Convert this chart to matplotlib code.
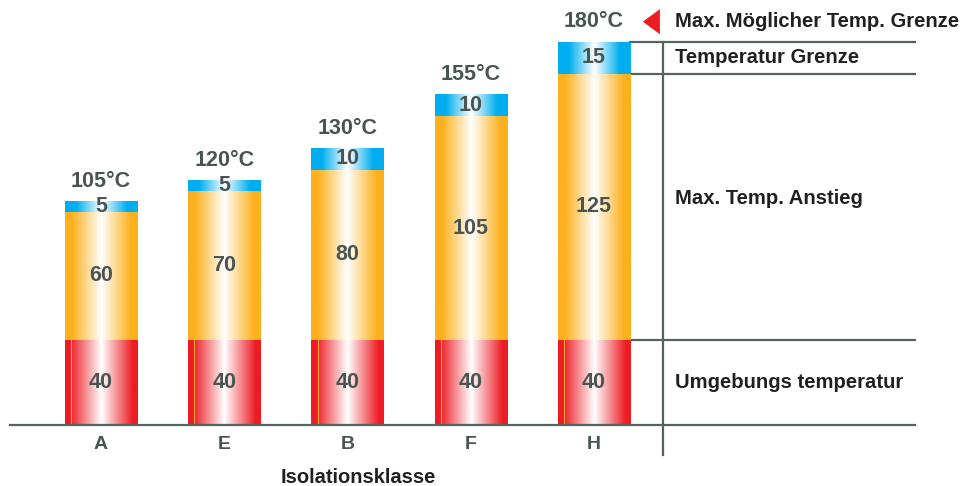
import numpy as np
import matplotlib.pyplot as plt
from matplotlib.patches import Polygon

plt.rcParams['font.family'] = ['Liberation Sans', 'DejaVu Sans']
plt.rcParams['font.weight'] = 'bold'

###############################################################
# data
###############################################################
classes = ['A', 'E', 'B', 'F', 'H']
ambient = [40, 40, 40, 40, 40]          # Umgebungs temperatur
rise = [60, 70, 80, 105, 125]            # Max. Temp. Anstieg
margin = [5, 5, 10, 10, 15]              # Temperatur Grenze
max_temp = [105, 120, 130, 155, 180]     # class label on top
band_labels = ['Max. Möglicher Temp. Grenze', 'Temperatur Grenze',
               'Max. Temp. Anstieg', 'Umgebungs temperatur']
xlabel = 'Isolationsklasse'

###############################################################
# style
###############################################################
red = '#ED1C24'
orange = '#FDB11F'
blue = '#00AEEF'
line_c = '#56625C'
grey_txt = '#4A5551'
dark_txt = '#231F20'
bw = 0.585


def grad_img(color, solid):
    c = np.array(plt.matplotlib.colors.to_rgb(color))
    t = np.linspace(0, 1, 300)
    d = np.abs(2 * t - 1)
    w = np.clip(1 - d / (1 - 2 * solid), 0, 1)
    rgb = c[None, :] + (1 - c[None, :]) * w[:, None]
    return rgb[None, :, :]


fig = plt.figure(figsize=(9.7, 4.86), dpi=100)
ax = fig.add_axes([0, 0, 1, 1])
ax.axis('off')

x = np.arange(len(classes))
for i, xi in enumerate(x):
    segs = [(0, ambient[i], red, 0.07),
            (ambient[i], ambient[i] + rise[i], orange, 0.10),
            (ambient[i] + rise[i], ambient[i] + rise[i] + margin[i], blue, 0.15)]
    vals = [ambient[i], rise[i], margin[i]]
    for (y0, y1, col, s), v in zip(segs, vals):
        ax.imshow(grad_img(col, s), extent=(xi - bw / 2, xi + bw / 2, y0, y1),
                  aspect='auto', interpolation='bilinear', zorder=2)
        ax.text(xi, (y0 + y1) / 2, str(v), ha='center', va='center',
                fontsize=15.5, color=grey_txt, zorder=4)
    # thin orange seam in the red part
    ax.plot([xi - bw / 2 + 0.05] * 2, [0, ambient[i]], color='#F7A23B',
            lw=0.8, zorder=3)
    top = ambient[i] + rise[i] + margin[i]
    ax.text(xi, top + 9.5, '%d°C' % max_temp[i], ha='center', va='center',
            fontsize=15.5, color=grey_txt, zorder=4)
    ax.text(xi, -9.4, classes[i], ha='center', va='center',
            fontsize=14, color=grey_txt)

# right side bands (from the last class)
h = len(classes) - 1
x_right = h + bw / 2
x_end = 6.605
x_vert = 4.56
b1 = ambient[h]
b2 = ambient[h] + rise[h]
b3 = b2 + margin[h]
for yy in [b1, b2, b3]:
    ax.plot([x_right, x_end], [yy, yy], color=line_c, lw=1.6, zorder=1)
ax.plot([-0.738, x_end], [0, 0], color=line_c, lw=1.6, zorder=5)
ax.plot([x_vert, x_vert], [-14, b3], color=line_c, lw=1.6, zorder=1)

tx = 4.657
ty = b3 + 9.5
ax.text(tx, ty, band_labels[0], ha='left', va='center', fontsize=14.6, color=dark_txt)
ax.text(tx, (b2 + b3) / 2, band_labels[1], ha='left', va='center', fontsize=14.6, color=dark_txt)
ax.text(tx, (b1 + b2) / 2 + 4, band_labels[2], ha='left', va='center', fontsize=14.6, color=dark_txt)
ax.text(tx, b1 / 2, band_labels[3], ha='left', va='center', fontsize=14.6, color=dark_txt)
ax.add_patch(Polygon([(4.397, ty), (4.535, ty + 5.9), (4.535, ty - 5.9)],
                     closed=True, color=red, lw=0))

ax.text(2.09, -24.9, xlabel, ha='center', va='center', fontsize=14.5, color=dark_txt)

ax.set_xlim(-0.8195, 7.051)
ax.set_ylim(-28.7, 199.7)
plt.savefig('out.png', dpi=100)
